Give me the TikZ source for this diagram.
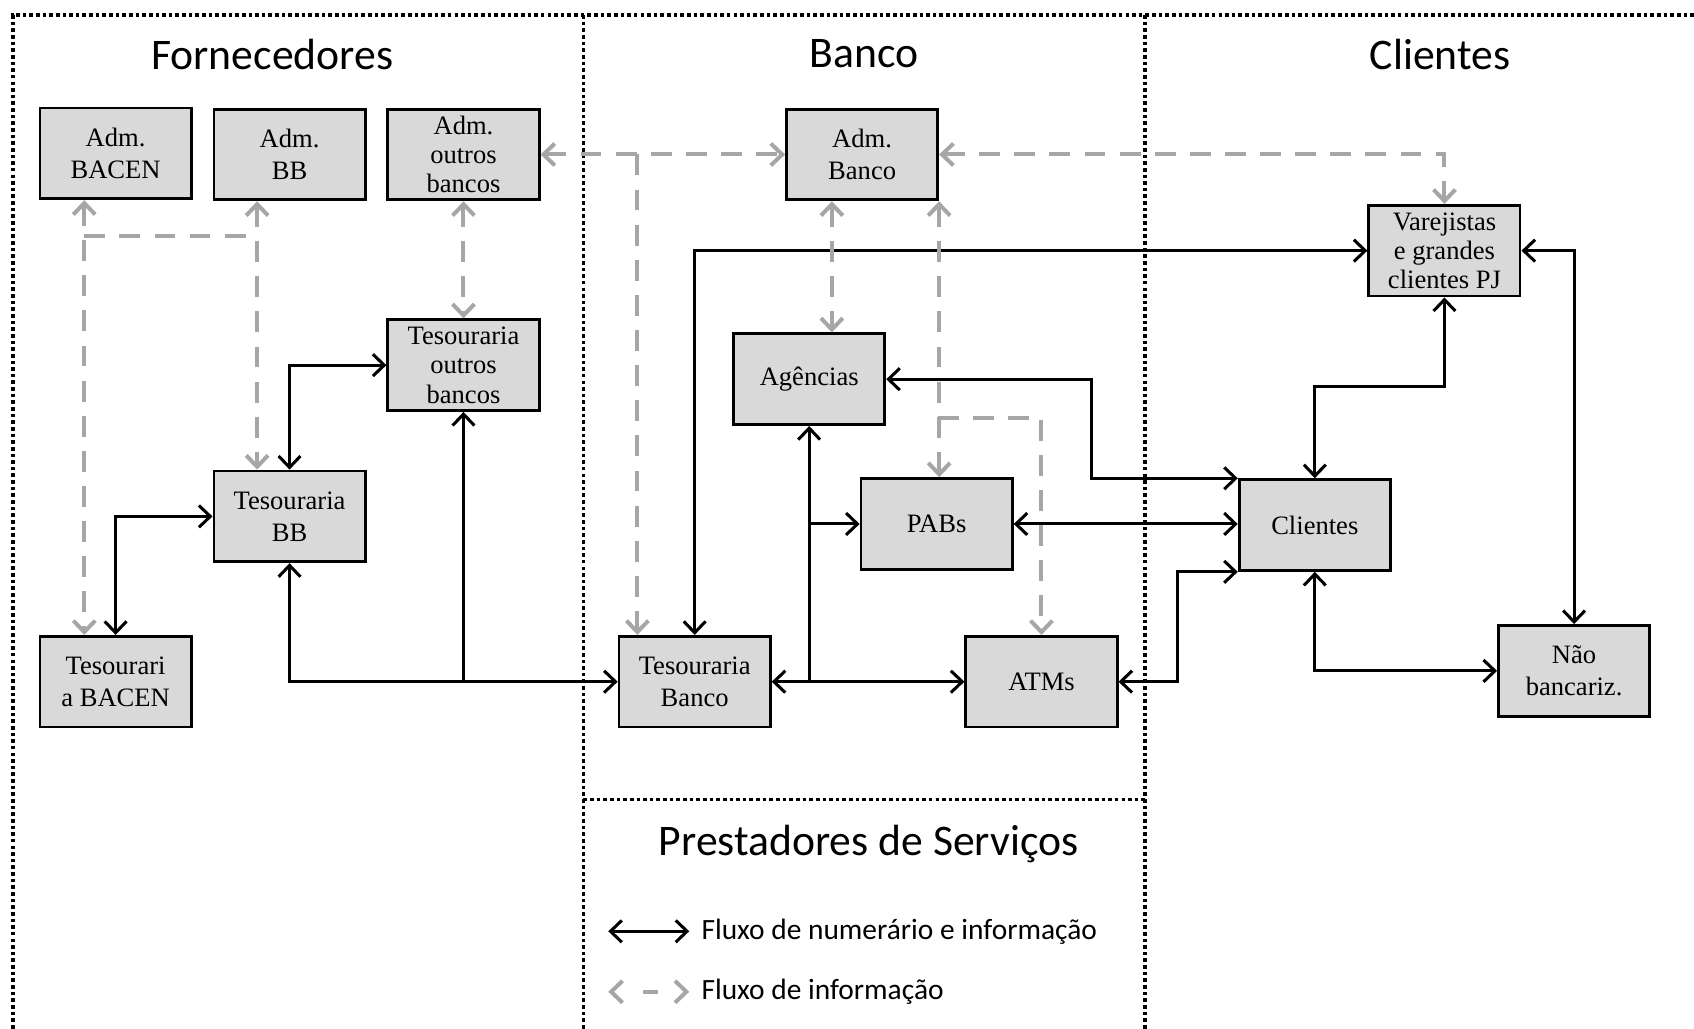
\documentclass[tikz,border=0pt]{standalone}
\usepackage{fontspec}
\setmainfont{Liberation Serif}
\newfontfamily\titlefont{Carlito}
\usetikzlibrary{arrows.meta}
\definecolor{boxgray}{RGB}{217,217,217}
\definecolor{infogray}{RGB}{166,166,166}
\tikzset{
  box/.style={draw=black, line width=1.5pt, fill=boxgray, minimum width=2.8cm, minimum height=1.68cm,
    inner sep=0pt, align=center, font=\fontsize{14}{15.4}\selectfont},
  boxtwo/.style={box, font=\fontsize{14}{16.8}\selectfont},
  regtitle/.style={font=\titlefont\fontsize{23}{28}\selectfont, inner sep=0pt},
  legtext/.style={font=\titlefont\fontsize{15.5}{18}\selectfont, inner sep=0pt, anchor=west},
  barb/.tip={Straight Barb[length=6pt,width=11.5pt]},
  flow/.style={draw=black, line width=1.6pt, arrows={barb-barb}},
  flowone/.style={draw=black, line width=1.6pt, arrows={-barb}},
  info/.style={draw=infogray, line width=2.1pt, dash pattern=on 11pt off 7.5pt, arrows={barb-barb}},
  infoone/.style={draw=infogray, line width=2.1pt, dash pattern=on 11pt off 7.5pt, arrows={-barb}},
  infoline/.style={draw=infogray, line width=2.1pt, dash pattern=on 11pt off 7.5pt},
  frameline/.style={draw=black, line width=1.9pt, dash pattern=on 1.9pt off 1.6pt}
}
\begin{document}
\begin{tikzpicture}[x=0.02cm,y=-0.02cm]
\useasboundingbox (0,0) rectangle (1568,952);
\fill[white] (0,0) rectangle (1568,952);

% region frames
\draw[frameline] (12,952) -- (12,14) -- (1568,14);
\draw[frameline] (540,14) -- (540,952);
\draw[frameline] (1060,14) -- (1060,952);
\draw[frameline] (540,740) -- (1060,740);

% titles
\node[regtitle] (tforn) at (252,50) {Fornecedores};
\node[regtitle] (tbanco) at (800,50) {Banco};
\node[regtitle] (tcli) at (1333,50) {Clientes};
\node[regtitle] (tprest) at (804,781) {Prestadores de Serviços};

% boxes
\node[boxtwo] (admbacen) at (107,142) {Adm.\\BACEN};
\node[boxtwo] (admbb) at (268,143) {Adm.\\BB};
\node[box] (admob) at (429,143) {Adm.\\outros\\bancos};
\node[box] (tesob) at (429,338) {Tesouraria\\outros\\bancos};
\node[boxtwo] (tesbb) at (268,478) {Tesouraria\\BB};
\node[boxtwo] (tbacen) at (107,631) {Tesourari\\a BACEN};
\node[boxtwo] (admbanco) at (798,143) {Adm.\\Banco};
\node[box] (agencias) at (749,351) {Agências};
\node[box] (pabs) at (867,485) {PABs};
\node[boxtwo] (tesbanco) at (643,631) {Tesouraria\\Banco};
\node[box] (atms) at (964,631) {ATMs};
\node[box] (varej) at (1337,232) {Varejistas\\e grandes\\clientes PJ};
\node[box] (clientes) at (1217,486) {Clientes};
\node[boxtwo] (nao) at (1457,621) {Não\\bancariz.};

% helper coordinates
\coordinate (jA) at (78,218);
\coordinate (jB) at (238,218);
\coordinate (jC) at (590,143);
\coordinate (jD) at (770,250);
\coordinate (jE) at (868,387);
\coordinate (j1) at (429,631);
\coordinate (j2) at (749,631);
\coordinate (j3) at (749,485);
\coordinate (k1) at (1010,400);
\coordinate (k2) at (1090,580);
\coordinate (k3) at (1300,358);

% black flows
\draw[flow] (tesbb.north) |- (tesob.west);
\draw[flow] (tbacen.north) |- (tesbb.west);
\draw[flow] (tesbb.south) |- (tesbanco.west);
\draw[flowone] (j1) -- (tesob.south);
\draw[flow] (tesbanco.north) |- (varej.west);
\draw[flowone] (j2) -- (tesbanco.east);
\draw[flowone] (j2) -- (atms.west);
\draw[flowone] (j2) -- (agencias.south);
\draw[flowone] (j3) -- (pabs.west);
\draw[flow] (agencias.east) -| (k1 |- clientes.north west) -- (clientes.north west);
\draw[flow] (pabs.east) -- (pabs.east -| clientes.west);
\draw[flow] (atms.east) -| (k2 |- clientes.south west) -- (clientes.south west);
\draw[flow] (clientes.north) |- (k3 -| varej.south) -- (varej.south);
\draw[flow] (clientes.south) |- (nao.west);
\draw[flow] (varej.east) -| (nao.north);

% grey information flows
\draw[info] (admbacen.south -| jA) -- (tbacen.north -| jA);
\draw[info] (admbb.south -| jB) -- (tesbb.north -| jB);
\draw[infoline] (jA) -- (jB);
\draw[info] (admob.south) -- (tesob.north);
\draw[info] (admob.east) -- (admbanco.west);
\draw[infoone] (jC) -- (tesbanco.north -| jC);
\draw[info] (admbanco.east) -| (varej.north);
\draw[info] (admbanco.south -| jD) -- (agencias.north -| jD);
\draw[info] (admbanco.south east) -- (pabs.north -| admbanco.south east);
\draw[infoone] (jE) -| (atms.north);

% legend
\coordinate (la1) at (563,862);
\coordinate (la2) at (638,862);
\coordinate (lb1) at (563,918);
\coordinate (lb2) at (638,918);
\draw[flow] (la1) -- (la2);
\draw[info, dash pattern=on 0pt off 16pt on 7.5pt off 60pt] (lb1) -- (lb2);
\node[legtext] (leg1) at (649,862) {Fluxo de numerário e informação};
\node[legtext] (leg2) at (649,918) {Fluxo de informação};
\end{tikzpicture}
\end{document}
